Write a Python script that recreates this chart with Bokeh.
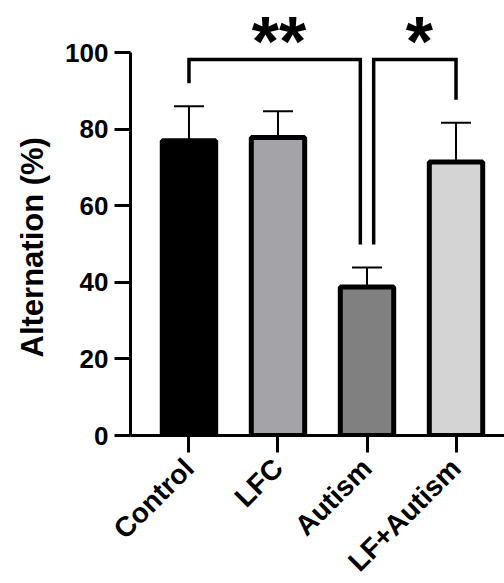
import math
from bokeh.plotting import figure
from bokeh.models import Range1d, FixedTicker, Whisker, TeeHead, ColumnDataSource, Title
from bokeh.core.properties import value
from bokeh.embed import file_html
from bokeh.resources import INLINE

# ---- data ----
groups = ["Control", "LFC", "Autism", "LF+Autism"]
means = [77.0, 77.8, 38.8, 71.4]
sems = [9.0, 6.9, 5.1, 10.3]
colors = ["#000000", "#a4a3a8", "#808080", "#d4d4d4"]
y_ticks = [0, 20, 40, 60, 80, 100]
y_title = "Alternation (%)"
comparisons = [(0, 2, "**"), (2, 3, "*")]
bracket_top = 98.2
star_y = 102.8
FONT = "Liberation Sans"

xs = list(range(len(groups)))
uppers = [m + s for m, s in zip(means, sems)]
src = ColumnDataSource(dict(x=xs, top=means, upper=uppers, color=colors))

p = figure(frame_width=375, frame_height=435,
           x_range=Range1d(-0.657, 3.556), y_range=Range1d(0, 113.6),
           output_backend="svg", toolbar_location=None,
           min_border_left=129, min_border_right=0,
           min_border_top=0, min_border_bottom=148)
p.background_fill_color = "white"
p.border_fill_color = "white"
p.outline_line_color = None
p.xgrid.visible = False
p.ygrid.visible = False

# error bars (upper only)
wh = Whisker(base="x", lower="top", upper="upper", source=src,
             line_width=2, line_color="black",
             upper_head=TeeHead(size=30, line_width=2, line_color="black"),
             lower_head=None)
p.add_layout(wh)

p.vbar(x="x", top="top", bottom=0, width=0.6, fill_color="color",
       line_color="black", line_width=5, source=src)

# significance brackets
inset = 0.075
use_count = {}
for i, j, _ in comparisons:
    use_count[i] = use_count.get(i, 0) + 1
    use_count[j] = use_count.get(j, 0) + 1
for i, j, label in comparisons:
    xl = i + (inset if use_count[i] > 1 else 0)
    xr = j - (inset if use_count[j] > 1 else 0)
    yl = uppers[i] + 6
    yr = uppers[j] + 6
    p.line([xl, xl, xr, xr], [yl, bracket_top, bracket_top, yr],
           line_color="black", line_width=3.5, line_join="miter")
    p.text(x=[(xl + xr) / 2 + 0.05], y=[star_y], text=[label],
           text_font=value(FONT), text_font_style="bold",
           text_font_size="70px", text_align="center",
           text_baseline="alphabetic", text_color="black")

# axes
for ax in (p.xaxis, p.yaxis):
    ax.axis_line_width = 3
    ax.axis_line_color = "black"
    ax.major_tick_line_width = 3
    ax.major_tick_line_color = "black"
    ax.major_tick_in = 0
    ax.minor_tick_line_color = None
    ax.major_label_text_font = FONT
    ax.major_label_text_font_style = "bold"
    ax.major_label_text_color = "black"

p.yaxis.ticker = FixedTicker(ticks=y_ticks)
p.yaxis.bounds = (0, 100)
p.yaxis.major_tick_out = 16
p.yaxis.major_label_standoff = 6
p.yaxis.major_label_text_font_size = "26px"

# y title, positioned along the 0-100 axis extent (as in the original)
p.add_layout(Title(text=y_title, align="left", offset=78, standoff=25,
                   text_font=FONT, text_font_style="bold",
                   text_font_size="31px", text_color="black"), "left")

p.xaxis.ticker = FixedTicker(ticks=xs)
p.xaxis.major_label_overrides = {x: g for x, g in zip(xs, groups)}
p.xaxis.major_label_orientation = math.pi / 4
p.xaxis.major_label_text_font_size = "28px"
p.xaxis.major_tick_out = 17
p.xaxis.major_label_standoff = 11

open("out.html", "w").write(file_html(p, INLINE))
